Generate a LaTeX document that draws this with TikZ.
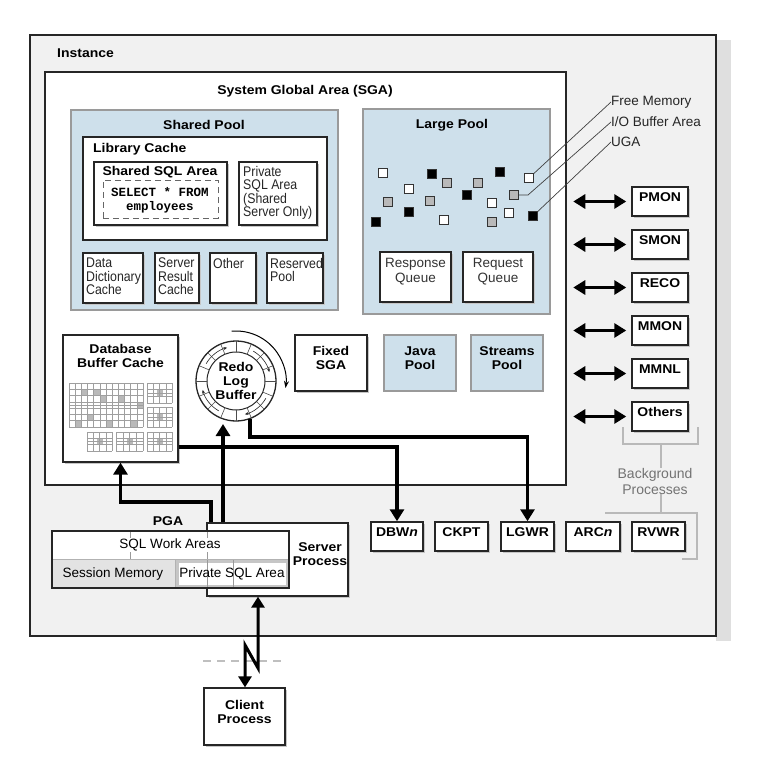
\documentclass[tikz,border=0pt]{standalone}
\usepackage{fontspec}
\setmainfont{Liberation Sans}
\setmonofont{Liberation Mono}
\newfontfamily\hdfont[FakeStretch=1.1]{Liberation Sans}
\newfontfamily\cdfont[FakeStretch=0.88]{Liberation Sans}
\usetikzlibrary{fit,arrows.meta,shadows}
\definecolor{instfill}{HTML}{F1F1F1}
\definecolor{poolblue}{HTML}{CEE0EB}
\definecolor{pooledge}{HTML}{9A9A9A}
\newcommand\gblk[6]{%
  \foreach \i in {0,...,#5}{\draw[gridl] ({#1+(#3-#1)*\i/#5},#2) -- ({#1+(#3-#1)*\i/#5},#4);}
  \foreach \j in {0,...,#6}{\draw[gridl] (#1,{#2+(#4-#2)*\j/#6}) -- (#3,{#2+(#4-#2)*\j/#6});}
  \draw[gridl, line width=1pt] ({(#1+#3)/2},#2) -- ({(#1+#3)/2},#4) (#1,{(#2+#4)/2}) -- (#3,{(#2+#4)/2});
}
\newcommand\gcell[2]{\fill[gray!55] (#1,#2) rectangle ++(6,6);}
\begin{document}
\begin{tikzpicture}[x=1pt,y=-1pt,line join=miter,
  hd/.style={font=\hdfont\bfseries\fontsize{12.7}{14}\selectfont, align=center, inner sep=0pt},
  cd/.style={font=\cdfont\fontsize{14}{13.5}\selectfont, align=left, inner sep=0pt, text=black!85},
  rg/.style={font=\fontsize{13.5}{14.5}\selectfont, align=center, inner sep=0pt},
  wbox/.style={draw=black!85, line width=1.3pt, fill=white, inner sep=0pt},
  sbox/.style={wbox, drop shadow={shadow xshift=2pt, shadow yshift=-2pt, fill=gray!45, opacity=1}},
  bbox/.style={draw=pooledge, line width=1.6pt, fill=poolblue, inner sep=0pt},
  pbox/.style={sbox, line width=1.5pt, hd},
  gridl/.style={draw=gray!75, line width=0.5pt},
  sq/.style={draw=black!80, line width=0.8pt, minimum size=8.5pt, inner sep=0pt},
  sqw/.style={sq, fill=white},
  sqb/.style={sq, fill=black},
  sqg/.style={sq, fill=gray!55},
  leader/.style={draw=black!75, line width=0.7pt},
  brk/.style={draw=gray!55, line width=1.2pt},
  bigarrow/.style={draw=black, line width=3.5pt, -{Triangle[width=14pt,length=12pt]}},
  dbl/.style={draw=black, line width=3.5pt, {Triangle[width=14pt,length=12pt]}-{Triangle[width=14pt,length=12pt]}},
  bolt/.style={draw=black, line width=3pt, {Triangle[width=13pt,length=11pt]}-{Triangle[width=13pt,length=11pt]}}
]
\useasboundingbox (0,0) rectangle (761,768);
\fill[white] (0,0) rectangle (761,768);
\fill[gray!25] (716,40) rectangle (731,641);
\node[fit={(30,35)(716,636)}, draw=black!85, line width=1.5pt, fill=instfill, inner sep=0pt] (instance) {};
\node[hd, anchor=west] (instlbl) at (57,53) {Instance};

% SGA
\node[fit={(45,72)(566,485)}, wbox] (sga) {};
\node[hd] (sgalbl) at (305,91) {System Global Area (SGA)};

% Shared pool
\node[fit={(71,110)(338,310)}, bbox] (shpool) {};
\node[hd] (shpoollbl) at (204,125) {Shared Pool};
\node[fit={(83,137)(327,240)}, wbox] (libcache) {};
\node[hd, anchor=west] (libcachelbl) at (93,149) {Library Cache};
\node[fit={(94,162)(227,225)}, sbox, line width=2pt] (shsql) {};
\node[hd] (shsqllbl) at (160,172) {Shared SQL Area};
\node[fit={(103,180)(218,218)}, draw=black!60, line width=0.9pt, inner sep=0pt, dash pattern=on 6pt off 4pt] (selbox) {};
\node[font=\ttfamily\bfseries\fontsize{12.5}{14}\selectfont, align=center, inner sep=0pt] (seltext) at (160,200) {SELECT * FROM\\employees};
\node[fit={(239,162)(317,225)}, sbox] (privsql) {};
\node[cd, anchor=north west] (privsqltxt) at (243,166) {Private\\SQL Area\\(Shared\\Server Only)};

\node[fit={(83,253)(143,303)}, sbox] (ddc) {};
\node[cd, anchor=north west] (ddctxt) at (86,258) {Data\\Dictionary\\Cache};
\node[fit={(155,253)(199,303)}, sbox] (src) {};
\node[cd, anchor=north west] (srctxt) at (158,258) {Server\\Result\\Cache};
\node[fit={(210,253)(256,303)}, sbox] (other) {};
\node[cd, anchor=north west] (othertxt) at (213,258) {Other};
\node[fit={(267,253)(323,303)}, sbox] (rsv) {};
\node[cd, anchor=north west] (rsvtxt) at (270,258) {Reserved\\Pool};

% Large pool
\node[fit={(363,109)(550,314)}, bbox] (lgpool) {};
\node[hd] (lgpoollbl) at (452,125) {Large Pool};
\node[fit={(380,252)(451,302)}, sbox] (respq) {};
\node[rg, text=black!80] (respqtxt) at (415.5,271.5) {Response\\Queue};
\node[fit={(463,252)(533,302)}, sbox] (reqq) {};
\node[rg, text=black!80] (reqqtxt) at (498,271.5) {Request\\Queue};

\node[rg, anchor=west, text=black!85] (lblfree) at (611,102) {Free Memory};
\node[rg, anchor=west, text=black!85] (lblio) at (611,122) {I/O Buffer Area};
\node[rg, anchor=west, text=black!85] (lbluga) at (611,142) {UGA};

\draw[leader] (529,178) -- (lblfree.west);
\draw[leader] (514,195) -- ++(14,0) -- (lblio.west);
\draw[leader] (533,216) -- (lbluga.west);

\node[sqw] (s1) at (383,173) {};
\node[sqw] (s2) at (409,189) {};
\node[sqw] (s3) at (444,220) {};
\node[sqw] (s4) at (492,203) {};
\node[sqw] (s5) at (509,213) {};
\node[sqw] (sqF) at (529,178) {};
\node[sqb] (s7) at (432,174) {};
\node[sqb] (s8) at (500,172) {};
\node[sqb] (s9) at (467,195) {};
\node[sqb] (s10) at (409,212) {};
\node[sqb] (s11) at (376,222) {};
\node[sqb] (sqU) at (533,216) {};
\node[sqg] (s13) at (447,183) {};
\node[sqg] (s14) at (478,183) {};
\node[sqg] (s15) at (388,202) {};
\node[sqg] (s16) at (430,201) {};
\node[sqg] (sqI) at (514,195) {};
\node[sqg] (s18) at (492,222) {};

% Fixed / Java / Streams
\node[fit={(295,335)(367,391)}, sbox, hd] (fixedsga) {Fixed\\SGA};
\node[fit={(384,335)(456,391)}, bbox, hd] (javapool) {Java\\Pool};
\node[fit={(471,335)(543,391)}, bbox, hd] (streams) {Streams\\Pool};

% Database buffer cache
\node[fit={(63,335)(178,462)}, sbox] (dbc) {};
\node[hd] (dbclbl) at (120.5,356) {Database\\Buffer Cache};
\gcell{81.3}{389.3}\gcell{99.8}{395.6}\gcell{136.8}{401.9}\gcell{75.2}{420.7}\gcell{106}{420.7}\gcell{130.7}{420.7}\gcell{87.5}{414.4}\gcell{93.7}{389.3}\gcell{118.3}{395.6}
\gblk{69}{383}{143}{427}{12}{7}
\gcell{156.5}{390}\gcell{156.5}{414}\gcell{96.5}{438.5}\gcell{126.5}{438.5}\gcell{156.5}{438.5}
\gblk{147}{383}{172}{403}{4}{3}
\gblk{147}{407}{172}{427}{4}{3}
\gblk{87}{432}{112}{451}{4}{3}
\gblk{116}{432}{143}{451}{4}{3}
\gblk{147}{432}{172}{451}{4}{3}

% Redo log buffer
\node[circle, draw=black!85, line width=1.3pt, fill=white, minimum size=80pt, inner sep=0pt] (redo) at (236,381) {};
\begin{scope}[shift={(redo.center)}, y=1pt]
  \draw[black!85, line width=1pt] (0,0) circle (29);
  \foreach \a in {0,22.5,...,337.5} \draw[black!70, line width=0.6pt] (\a:29) -- (\a:40);
  \foreach \s in {150,240,330,60} \draw[black!85, line width=0.6pt, -{Stealth[length=3.5pt,width=3pt]}] (\s:34.5) arc (\s:\s-45:34.5);
  \draw[black, line width=1pt, -{Stealth[length=7pt,width=5pt]}] (95:50) arc (95:-8:50);
\end{scope}
\node[hd] (redolbl) at (236,381) {Redo\\Log\\Buffer};

% Background processes (right)
\node[fit={(632,187)(688,216)}, pbox] (pmon) {PMON};
\node[fit={(632,230)(688,259)}, pbox] (smon) {SMON};
\node[fit={(632,273)(688,302)}, pbox] (reco) {RECO};
\node[fit={(632,316)(688,345)}, pbox] (mmon) {MMON};
\node[fit={(632,359)(688,388)}, pbox] (mmnl) {MMNL};
\node[fit={(632,402)(688,431)}, pbox] (others) {Others};
\foreach \p in {pmon,smon,reco,mmon,mmnl,others}
  \draw[dbl] ([xshift=-58pt]\p.west) -- ([xshift=-5pt]\p.west);

% bottom processes
\node[fit={(371,522)(423,551)}, pbox] (dbwn) {DBW\textit{n}};
\node[fit={(435,522)(488,551)}, pbox] (ckpt) {CKPT};
\node[fit={(501,522)(554,551)}, pbox] (lgwr) {LGWR};
\node[fit={(566,522)(620,551)}, pbox] (arcn) {ARC\textit{n}};
\node[fit={(632,522)(685,551)}, pbox] (rvwr) {RVWR};

% brackets
\node[rg, text=black!55, font=\fontsize{14}{16}\selectfont] (bgproc) at (655,481) {Background\\Processes};
\coordinate (stemA) at (661,444);
\coordinate (stemB) at (661,513);
\draw[brk] (623,427) -- (623,444) -- (698,444) -- (698,427);
\draw[brk] (stemA) -- (stemA |- bgproc.north);
\draw[brk] (stemB |- bgproc.south) -- (stemB);
\draw[brk] (605,513) -- (697,513) -- (697,559) -- (682,559);

% Server process and PGA
\node[fit={(207,523)(348,596)}, sbox] (srvproc) {};
\node[hd] (srvlbl) at (320,554) {Server\\Process};
\fill[white] (52,531) rectangle (289,559);
\fill[gray!22] (52,559) rectangle (175,588);
\fill[gray!45] (175,559) rectangle (289,588);
\fill[white] (179,563) rectangle (286,585);
\draw[gray!80, line width=0.8pt] (130,531) -- (130,559) (207,531) -- (207,588) (233,559) -- (233,588);
\draw[gray!60, line width=0.8pt] (52,559) -- (289,559) (175,559) -- (175,588);
\node[fit={(52,531)(289,588)}, draw=black!85, line width=1.3pt, inner sep=0pt] (pga) {};
\node[hd] (pgalbl) at (168,521) {PGA};
\node[rg, fill=white, inner sep=1pt] (sqlwa) at (170,545) {SQL Work Areas};
\node[rg] (sessmem) at (113,574) {Session Memory};
\node[rg] (pgasql) at (232,574) {Private SQL Area};

% Client
\node[fit={(204,688)(285,745)}, sbox, hd] (client) {Client\\Process};
\draw[gray!50, line width=2.5pt, dash pattern=on 8pt off 6pt] (203,661) -- (283,661);

% connectors
\coordinate (c1) at (397,447);
\draw[bigarrow] (dbc.east |- c1) -- (c1) -- (dbwn.north);
\coordinate (c2) at (527.5,437);
\draw[bigarrow] (redo.-70) |- (c2) -- (lgwr.north);
\coordinate (c3) at (223,424);
\draw[bigarrow] (c3 |- srvproc.north) -- (c3);
\coordinate (c4a) at (211,502);
\coordinate (c4b) at (120.5,502);
\draw[bigarrow] (c4a |- srvproc.north) -- (c4a) -- (c4b) -- (dbc.south);
\coordinate (z1) at (258,668);
\coordinate (z2) at (245,645);
\draw[bolt] (z1 |- srvproc.south) -- (z1) -- (z2) -- (z2 |- client.north);
\end{tikzpicture}
\end{document}
